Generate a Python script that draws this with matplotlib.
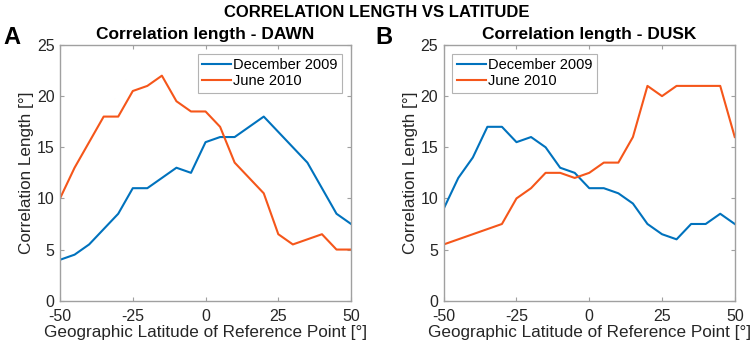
import matplotlib
matplotlib.use('Agg')
import matplotlib.pyplot as plt

plt.rcParams['font.family'] = ['Liberation Sans', 'DejaVu Sans']
plt.rcParams['axes.unicode_minus'] = False

# latitude of the reference point (deg)
lat = [-50, -45, -40, -35, -30, -25, -20, -15, -10, -5, 0,
       5, 10, 15, 20, 25, 30, 35, 40, 45, 50]

# DAWN
dawn_dec2009 = [4, 4.5, 5.5, 7, 8.5, 11, 11, 12, 13, 12.5, 15.5,
                16, 16, 17, 18, 16.5, 15, 13.5, 11, 8.5, 7.5]
dawn_jun2010 = [10, 13, 15.5, 18, 18, 20.5, 21, 22, 19.5, 18.5, 18.5,
                17, 13.5, 12, 10.5, 6.5, 5.5, 6, 6.5, 5, 5]

# DUSK
dusk_dec2009 = [9, 12, 14, 17, 17, 15.5, 16, 15, 13, 12.5, 11,
                11, 10.5, 9.5, 7.5, 6.5, 6, 7.5, 7.5, 8.5, 7.5]
dusk_lat_jun = [-50, -30, -25, -20, -15, -10, -5, 0,
                5, 10, 15, 20, 25, 30, 35, 40, 45, 50]
dusk_jun2010 = [5.5, 7.5, 10, 11, 12.5, 12.5, 12, 12.5,
                13.5, 13.5, 16, 21, 20, 21, 21, 21, 21, 16]

blue = '#0072BD'
orange = '#F5561A'
grey = '#A0A0A0'

fig = plt.figure(figsize=(7.54, 3.49), dpi=100)
ax1 = fig.add_axes([0.0796, 0.1384, 0.386, 0.7327])
ax2 = fig.add_axes([0.5885, 0.1384, 0.386, 0.7327])

panels = [
    (ax1, lat, dawn_dec2009, lat, dawn_jun2010, 'Correlation length - DAWN', 'upper right'),
    (ax2, lat, dusk_dec2009, dusk_lat_jun, dusk_jun2010, 'Correlation length - DUSK', 'upper left'),
]

for ax, x1, y1, x2, y2, title, loc in panels:
    ax.plot(x1, y1, color=blue, lw=1.5, label='December 2009')
    ax.plot(x2, y2, color=orange, lw=1.5, label='June 2010')
    ax.set_xlim(-50, 50)
    ax.set_ylim(0, 25)
    ax.set_xticks([-50, -25, 0, 25, 50])
    ax.set_yticks([0, 5, 10, 15, 20, 25])
    ax.tick_params(direction='in', top=True, right=True, length=3,
                   color=grey, labelsize=11.5, labelcolor='#262626')
    ax.tick_params(axis='x', pad=6)
    ax.tick_params(axis='y', pad=4)
    for s in ax.spines.values():
        s.set_color(grey)
        s.set_linewidth(1.0)
    ax.set_title(title, fontsize=12.5, fontweight='bold', pad=4)
    ax.set_xlabel('Geographic Latitude of Reference Point [°]', fontsize=12.3,
                  color='#262626', labelpad=1)
    ax.set_ylabel('Correlation Length [°]', fontsize=12.3, color='#262626', labelpad=2)
    leg = ax.legend(loc=loc, fontsize=10.5, frameon=True, fancybox=False,
                    handlelength=2.0, handletextpad=0.15, borderpad=0.3,
                    labelspacing=0.15, borderaxespad=0.6)
    leg.get_frame().set_edgecolor(grey)
    leg.get_frame().set_linewidth(0.8)

fig.text(0.5, 0.985, 'CORRELATION LENGTH VS LATITUDE', ha='center', va='top',
         fontsize=12, fontweight='bold')
fig.text(0.004, 0.925, 'A', ha='left', va='top', fontsize=17, fontweight='bold')
fig.text(0.498, 0.925, 'B', ha='left', va='top', fontsize=17, fontweight='bold')

fig.savefig('out.png', dpi=100)
